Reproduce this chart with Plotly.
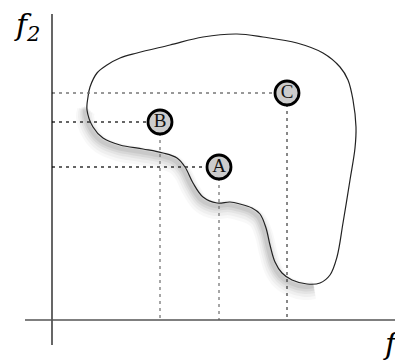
import plotly.graph_objects as go

# outline of the feasible region (picture units, y grows downward)
region_x = [88, 90, 97, 107, 120, 137, 170, 203, 237, 263, 297, 323, 340, 348, 353, 356, 355,
            350, 343, 337, 330, 320, 307, 292, 282, 275, 270, 266, 260, 252, 240, 230, 217,
            203, 193, 185, 177, 163, 143, 120, 103, 93, 87, 88]
region_y = [97, 87, 73, 65, 58, 53, 45, 37, 34, 37, 43, 53, 67, 80, 100, 127, 148,
            180, 223, 257, 275, 283, 284, 280, 273, 262, 245, 228, 214, 208, 204, 202, 203,
            197, 183, 167, 158, 153, 149, 145, 138, 127, 110, 97]

# lower-left part of the outline (pareto front) that carries the shadow
front_x = [88, 87, 93, 103, 120, 143, 163, 177, 185, 193, 203, 217, 230, 240, 252, 260, 266,
           270, 275, 282, 292, 307, 316]
front_y = [104, 110, 127, 138, 145, 149, 153, 158, 167, 183, 197, 203, 202, 204, 208, 214, 228,
           245, 262, 273, 280, 284, 283]

# solutions
labels = ["A", "B", "C"]
sol_x = [219, 160, 287]
sol_y = [167, 122, 93]

# axes
origin_x = 52
origin_y = 320
y_axis_top = 14
y_axis_bottom = 345
x_axis_left = 25
x_axis_right = 403

# the page body has an 8px margin, so the figure is shifted by that much
pad = 8
serif = "Liberation Serif"
italic_serif = "DejaVu Serif"

fig = go.Figure()

# soft shadow below the front
for w, op, dy in [(18, 0.025, 7), (14, 0.03, 6), (10, 0.04, 5), (7, 0.05, 4), (4, 0.06, 3)]:
    fig.add_trace(go.Scatter(x=[v - 2 for v in front_x], y=[v + dy for v in front_y],
                             mode="lines", line=dict(color="black", width=w, shape="spline"),
                             opacity=op, hoverinfo="skip"))

fig.add_trace(go.Scatter(x=region_x, y=region_y, mode="lines",
                         line=dict(color="#222222", width=1.2, shape="spline", smoothing=1.0),
                         hoverinfo="skip"))

# dashed projection lines
for i, lab in enumerate(labels):
    hcol = "#777777" if lab == "C" else "#333333"
    vcol = "#111111" if lab == "C" else "#777777"
    fig.add_trace(go.Scatter(x=[origin_x, sol_x[i] - 11], y=[sol_y[i], sol_y[i]], mode="lines",
                             line=dict(color=hcol, width=1.3, dash="3px,4px"), hoverinfo="skip"))
    fig.add_trace(go.Scatter(x=[sol_x[i], sol_x[i]], y=[sol_y[i] + 11, origin_y], mode="lines",
                             line=dict(color=vcol, width=1.3 if lab != "C" else 1.0,
                                       dash="3px,4px"), hoverinfo="skip"))

# axis lines
fig.add_trace(go.Scatter(x=[origin_x, origin_x], y=[y_axis_top, y_axis_bottom], mode="lines",
                         line=dict(color="black", width=1.2), hoverinfo="skip"))
fig.add_trace(go.Scatter(x=[x_axis_left, x_axis_right], y=[origin_y, origin_y], mode="lines",
                         line=dict(color="#555555", width=1.5), hoverinfo="skip"))

fig.add_trace(go.Scatter(x=sol_x, y=sol_y, mode="markers+text", text=labels,
                         textposition="middle center",
                         textfont=dict(family=serif, size=19, color="#111111"),
                         marker=dict(size=24, color="#cccccc", line=dict(color="black", width=2.8)),
                         hoverinfo="skip"))

fig.add_annotation(x=27, y=26, text="<i>f<sub>2</sub></i>", showarrow=False,
                   font=dict(family=italic_serif, size=30, color="black"))
fig.add_annotation(x=396, y=345, text="<i>f<sub>1</sub></i>", showarrow=False,
                   font=dict(family=italic_serif, size=30, color="black"))

fig.update_layout(width=403 - pad, height=360 - pad, margin=dict(l=0, r=0, t=0, b=0),
                  paper_bgcolor="white", plot_bgcolor="white", showlegend=False,
                  font=dict(family=serif),
                  xaxis=dict(range=[pad, 403], visible=False, fixedrange=True),
                  yaxis=dict(range=[360, pad], visible=False, fixedrange=True))

fig.write_html("out.html")
